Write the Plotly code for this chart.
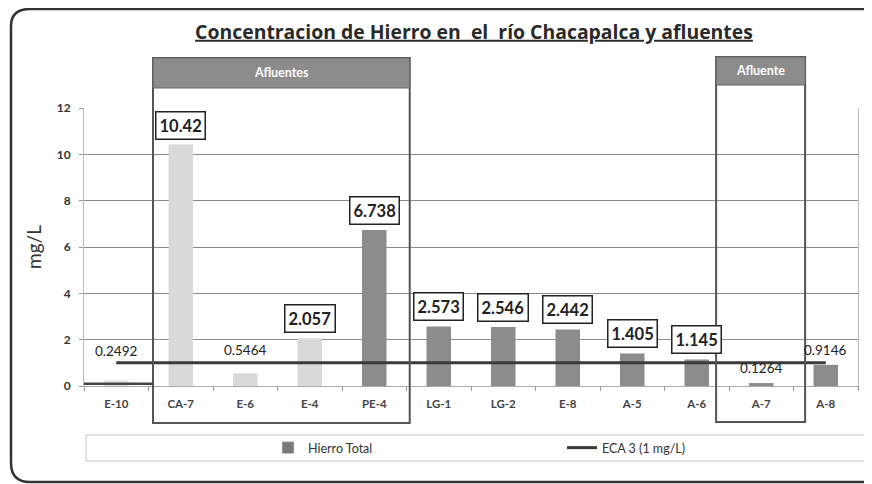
import plotly.graph_objects as go

# ---- data ----
categories = ["E-10", "CA-7", "E-6", "E-4", "PE-4", "LG-1", "LG-2", "E-8", "A-5", "A-6", "A-7", "A-8"]
hierro_total = [0.2492, 10.42, 0.5464, 2.057, 6.738, 2.573, 2.546, 2.442, 1.405, 1.145, 0.1264, 0.9146]
eca3 = [1, 1, 1, 1, 1, 1, 1, 1, 1, 1, 1, 1]
y_ticks = [0, 2, 4, 6, 8, 10, 12]

# ---- styles ----
FONT = "Lato, 'Open Sans', sans-serif"
TFONT = "'Open Sans', Lato, sans-serif"
bar_colors = ["#e6e6e6", "#d9d9d9", "#d9d9d9", "#d9d9d9"] + ["#8c8c8c"] * 8
label_lift = {"E-10": 19, "E-6": 13}  # pixel lifts for plain labels

# page body adds an 8px offset; figure is sized so it fits the window
OFF = 8
W, H = 872 - OFF, 484 - OFF
L, R, T, B = 84 - OFF, 864 - (858 - OFF), 108 - OFF, H - (386 - OFF)
pw, ph = W - L - R, H - T - B


def px(x):  # reference-screen x -> paper fraction
    return (x - OFF - L) / pw


def py(y):  # reference-screen y -> paper fraction
    return (H - B - (y - OFF)) / ph


fig = go.Figure()
fig.add_trace(go.Bar(
    x=categories, y=hierro_total, marker=dict(color=bar_colors, line=dict(width=0)),
    showlegend=False, hoverinfo="x+y"))
fig.add_trace(go.Bar(
    x=[None], y=[None], name="Hierro Total", marker=dict(color="#7a7a7a"), showlegend=True))
fig.add_trace(go.Scatter(
    x=categories, y=eca3, mode="lines", name="ECA 3 (1 mg/L)",
    line=dict(color="#3a3a3a", width=3)))

ann = []
for c, v, e in zip(categories, hierro_total, eca3):
    if v > e:
        ann.append(dict(x=c, y=v, xref="x", yref="y", text=f"{v:g}", showarrow=False,
                        yanchor="bottom", yshift=5,
                        font=dict(size=16.5, color="#222", family=FONT, weight="bold"),
                        bordercolor="#222", borderwidth=1.5, borderpad=3, bgcolor="white"))
    else:
        ann.append(dict(x=c, y=v, xref="x", yref="y", text=f"{v:g}", showarrow=False,
                        yanchor="bottom", yshift=label_lift.get(c, 5),
                        font=dict(size=13.5, color="#222", family=FONT)))

# header labels
ann.append(dict(x=2.56, y=py(73), xref="x", yref="paper", text="Afluentes", showarrow=False,
                yanchor="middle", font=dict(size=12.5, color="white", family=FONT, weight="bold")))
ann.append(dict(x=9.99, y=py(71), xref="x", yref="paper", text="Afluente", showarrow=False,
                yanchor="middle", font=dict(size=12.5, color="white", family=FONT, weight="bold")))

shapes = []
frame = (f"M {px(880)},{py(OFF + 1)} L {px(30)},{py(OFF + 1)} Q {px(11)},{py(OFF + 1)} {px(11)},{py(26)} "
         f"L {px(11)},{py(463)} Q {px(11)},{py(482)} {px(30)},{py(482)} L {px(880)},{py(482)}")
shapes.append(dict(type="path", xref="paper", yref="paper", path=frame,
                   line=dict(color="#333", width=2.5), layer="below"))
# legend frame
shapes.append(dict(type="rect", xref="paper", yref="paper", x0=px(86), x1=px(867), y0=py(435), y1=py(461),
                   line=dict(color="#c4c4c4", width=1), layer="below"))
# Afluentes box
shapes.append(dict(type="rect", xref="x", yref="paper", x0=0.57, x1=4.55, y0=py(423), y1=py(58),
                   line=dict(color="#555", width=2), layer="above"))
shapes.append(dict(type="rect", xref="x", yref="paper", x0=0.57, x1=4.55, y0=py(88), y1=py(58),
                   fillcolor="#8c8c8c", line=dict(color="#666", width=1), layer="above"))
# Afluente box
shapes.append(dict(type="rect", xref="x", yref="paper", x0=9.3, x1=10.68, y0=py(422), y1=py(57),
                   line=dict(color="#555", width=2), layer="above"))
shapes.append(dict(type="rect", xref="x", yref="paper", x0=9.3, x1=10.68, y0=py(85), y1=py(57),
                   fillcolor="#8c8c8c", line=dict(color="#666", width=1), layer="above"))
# dark base segment under E-10
shapes.append(dict(type="line", xref="x", yref="y", x0=-0.5, x1=0.57, y0=0.1, y1=0.1,
                   line=dict(color="#444", width=2.5), layer="above"))

fig.update_layout(
    width=W, height=H,
    margin=dict(l=L, r=R, t=T, b=B, autoexpand=False),
    paper_bgcolor="white", plot_bgcolor="white",
    font=dict(family=FONT, color="#333"),
    bargap=0.62,
    title=dict(text="<u>Concentracion de Hierro en\u00a0 el\u00a0 río Chacapalca y afluentes</u>",
               x=(474 - OFF) / W, xanchor="center", xref="container",
               y=1 - (32 - OFF) / H, yanchor="middle", yref="container",
               font=dict(size=19.4, color="#2a2a2a", family=TFONT, weight="bold")),
    xaxis=dict(type="category", categoryorder="array", categoryarray=categories,
               range=[-0.5, 11.5],
               showgrid=False, showline=True, linecolor="#aaaaaa", linewidth=1,
               ticks="outside", tickson="boundaries", ticklen=4, tickcolor="#999",
               tickfont=dict(size=11.5, color="#444", family=FONT, weight="bold"), ticklabelstandoff=7),
    yaxis=dict(range=[0, 12], tickvals=y_ticks, showgrid=True, gridcolor="#8a8a8a", gridwidth=1,
               showline=True, linecolor="#bbbbbb", linewidth=1, mirror=True,
               ticks="outside", ticklen=4, tickcolor="#999", zeroline=False,
               tickfont=dict(size=12, color="#333", family=FONT, weight="bold"), ticklabelstandoff=6,
               title=dict(text="mg/L", font=dict(size=19, color="#333", family=FONT), standoff=10)),
    legend=dict(orientation="h", x=px(268), xanchor="left", y=py(448), yanchor="middle",
                bgcolor="rgba(0,0,0,0)", borderwidth=0, entrywidth=249, entrywidthmode="pixels",
                font=dict(size=12.5, color="#333", family=FONT), traceorder="normal"),
    annotations=ann,
    shapes=shapes,
)

fig.write_html("out.html")
